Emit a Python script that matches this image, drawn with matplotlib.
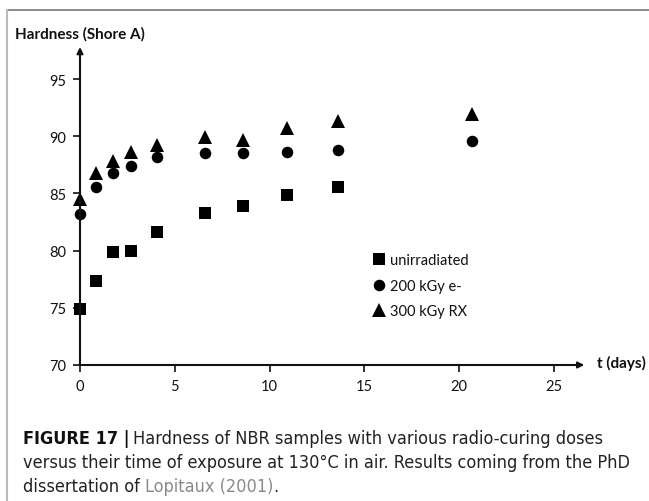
import numpy as np
import matplotlib
matplotlib.use("Agg")
import matplotlib.pyplot as plt
from matplotlib.lines import Line2D

# data
t_days = [0, 0.85, 1.75, 2.7, 4.05, 6.6, 8.6, 10.9, 13.6, 20.7]
unirr = [74.9, 77.3, 79.85, 80.0, 81.6, 83.3, 83.9, 84.9, 85.6]
e200 = [83.2, 85.6, 86.8, 87.4, 88.2, 88.5, 88.5, 88.6, 88.8, 89.55]
rx300 = [84.5, 86.8, 87.8, 88.6, 89.2, 89.9, 89.7, 90.7, 91.3, 91.9]
labels = ["unirradiated", "200 kGy e-", "300 kGy RX"]
xticks = [0, 5, 10, 15, 20, 25]
yticks = [70, 75, 80, 85, 90, 95]

W, H = 649, 502
fig = plt.figure(figsize=(W / 100, H / 100), dpi=100)

font = "Lato"
xmax, ymax = 26.6, 97.8
# pixel layout of the plot area
x0, y0 = 80, 366
px_day, px_unit = 18.96, 11.44
ax = fig.add_axes([x0 / W, (H - y0) / H, xmax * px_day / W, (ymax - 70) * px_unit / H])
ax.set_xlim(0, xmax)
ax.set_ylim(70, ymax)
for s in ax.spines.values():
    s.set_visible(False)
ax.patch.set_alpha(0)

ax.plot(t_days[:len(unirr)], unirr, ls="none", marker="s", ms=8, mew=0, color="black", clip_on=False)
ax.plot(t_days, e200, ls="none", marker="o", ms=8.3, mew=0, color="black", clip_on=False)
ax.plot(t_days, rx300, ls="none", marker="^", ms=9.5, mew=0, color="black", clip_on=False)

# arrow axes
arw = dict(arrowstyle="-|>", lw=1.5, color="#111111", mutation_scale=9, shrinkA=0, shrinkB=0)
ax.annotate("", xy=(0, 1), xytext=(0, 0), xycoords="axes fraction", arrowprops=arw)
ax.annotate("", xy=(1, 0), xytext=(0, 0), xycoords="axes fraction", arrowprops=arw)

ax.set_xticks(xticks)
ax.set_yticks(yticks)
ax.tick_params(direction="out", length=5, width=1.2, color="#111111", labelsize=10.5,
               labelcolor="#111111")
ax.tick_params(axis="x", pad=5)
ax.tick_params(axis="y", pad=5)
for lab in ax.get_xticklabels() + ax.get_yticklabels():
    lab.set_fontfamily(font)

fig.text(15 / W, 1 - 34 / H, "Hardness (Shore A)", fontsize=11, fontweight="bold",
         family=font, va="center", ha="left", color="#111111")
fig.text(597 / W, 1 - 363 / H, "t (days)", fontsize=11, fontweight="bold",
         family=font, va="center", ha="left", color="#111111")

# legend drawn by hand
handles = [
    Line2D([], [], ls="none", marker="s", ms=8, mew=0, color="black"),
    Line2D([], [], ls="none", marker="o", ms=8.3, mew=0, color="black"),
    Line2D([], [], ls="none", marker="^", ms=9.5, mew=0, color="black"),
]
leg = fig.legend(handles, labels, loc="upper left", bbox_to_anchor=(373 / W, 1 - 254 / H),
                 frameon=False, handlelength=0.8, handletextpad=0.35, labelspacing=0.8,
                 prop={"family": font, "size": 10.5}, borderpad=0, borderaxespad=0)
for txt in leg.get_texts():
    txt.set_color("#111111")

# frame lines
fig.add_artist(Line2D([7 / W, 1], [1 - 10.5 / H, 1 - 10.5 / H], color="#777777", lw=1.2))
fig.add_artist(Line2D([7 / W, 7 / W], [0, 1 - 10.5 / H], color="#bbbbbb", lw=1.5))

# caption
cap_font = ["DejaVu Sans"]
cap_kw = dict(family=cap_font, stretch="condensed", va="center", ha="left")
r = fig.canvas.get_renderer()
line2 = "versus their time of exposure at 130\u00b0C in air. Results coming from the PhD"
cap_size = 14
probe = fig.text(0, 0, line2, fontsize=cap_size, **cap_kw)
wpx = probe.get_window_extent(r).width
probe.remove()
cap_size = cap_size * min(1.0, 610 / wpx)

cx = 23 / W
b = fig.text(cx, 1 - 439 / H, "FIGURE 17 |", fontsize=cap_size, fontweight="bold",
             color="#111111", **cap_kw)
bb = b.get_window_extent(r)
fig.text(bb.x1 / W + 3 / W, 1 - 439 / H, "Hardness of NBR samples with various radio-curing doses",
         fontsize=cap_size, color="#222222", **cap_kw)
fig.text(cx, 1 - 463 / H, line2, fontsize=cap_size, color="#222222", **cap_kw)
d = fig.text(cx, 1 - 487 / H, "dissertation of ", fontsize=cap_size, color="#222222", **cap_kw)
bb = d.get_window_extent(r)
l = fig.text(bb.x1 / W, 1 - 487 / H, "Lopitaux (2001)", fontsize=cap_size,
             color="#8a8a8a", **cap_kw)
bb = l.get_window_extent(r)
fig.text(bb.x1 / W, 1 - 487 / H, ".", fontsize=cap_size, color="#222222", **cap_kw)

fig.savefig("out.png", dpi=100)
